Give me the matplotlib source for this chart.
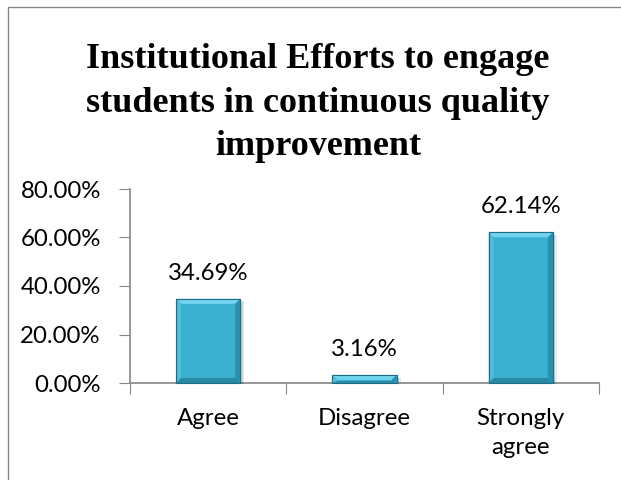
import matplotlib
matplotlib.use("Agg")
import matplotlib.pyplot as plt
from matplotlib.patches import Polygon, Rectangle
from matplotlib.transforms import IdentityTransform
from matplotlib.ticker import FuncFormatter

categorias = ["Agree", "Disagree", "Strongly\nagree"]
valores = [34.69, 3.16, 62.14]
etiquetas = ["34.69%", "3.16%", "62.14%"]

W, H = 621, 480
fig = plt.figure(figsize=(W / 100, H / 100), dpi=100)
fuente = "Lato"
tam = 17.3

# marco del grafico (se sale por la derecha y abajo)
fig.add_artist(Rectangle((8 / W, -0.1), 1.2, 1 - 7 / H + 0.1, transform=fig.transFigure,
                         facecolor="none", edgecolor="#868686", linewidth=1))

ax = fig.add_axes([130 / W, 1 - 383 / H, 469 / W, 194 / H])
x = list(range(len(categorias)))
barras = ax.bar(x, valores, width=0.41, color="#3AAFCF", edgecolor="#1D6E85", linewidth=0.8, zorder=3)

ax.set_xlim(-0.5, 2.5)
ax.set_ylim(0, 80)
ax.set_yticks([0, 20, 40, 60, 80])
ax.yaxis.set_major_formatter(FuncFormatter(lambda v, p: f"{v:.2f}%"))
ax.set_xticks([-0.5, 0.5, 1.5, 2.5], minor=False)
ax.set_xticklabels([])
ax.set_xticks(x, minor=True)
ax.set_xticklabels(categorias, minor=True, fontfamily=fuente, fontsize=tam, linespacing=1.45)
ax.tick_params(axis="x", which="minor", length=0, pad=18)
ax.tick_params(axis="x", which="major", length=8, color="#868686", direction="out")
ax.tick_params(axis="y", length=8, color="#868686", direction="out", pad=13, labelsize=tam)
for lab in ax.get_yticklabels():
    lab.set_fontfamily(fuente)
for s in ["top", "right"]:
    ax.spines[s].set_visible(False)
for s in ["left", "bottom"]:
    ax.spines[s].set_color("#868686")
    ax.spines[s].set_linewidth(1.2)

for b, t in zip(barras, etiquetas):
    ax.annotate(t, (b.get_x() + b.get_width() / 2, b.get_height()), xytext=(0, 11),
                textcoords="offset points", ha="center", va="bottom", fontfamily=fuente, fontsize=tam)

fig.text(318 / W, 1 - 103 / H, "Institutional Efforts to engage\nstudents in continuous quality\nimprovement",
         ha="center", va="center", fontfamily="Liberation Serif", fontweight="bold", fontsize=26,
         linespacing=1.42)

# biselado de las barras en coordenadas de pixel
fig.canvas.draw()
bev = 5
for b in barras:
    bb = b.get_window_extent()
    x0, y0, x1, y1 = bb.x0, bb.y0, bb.x1, bb.y1
    alto = y1 - y0
    dt = min(bev, alto * 0.6)
    db = min(bev, alto * 0.25)
    # sombra suave a la derecha
    for k, a in [(4, 0.08), (2.5, 0.12)]:
        fig.add_artist(Rectangle((x0 + k, y0 - 1), x1 - x0, alto - k / 2, transform=IdentityTransform(),
                                 facecolor="black", alpha=a, edgecolor="none", zorder=2))
    caras = [
        ([(x0, y0), (x1, y0), (x1, y1), (x0, y1)], "#3AAFCF"),
        ([(x0, y1), (x1, y1), (x1 - bev, y1 - dt), (x0 + bev, y1 - dt)], "#72D5EF"),
        ([(x0, y0), (x0, y1), (x0 + bev, y1 - dt), (x0 + bev, y0 + db)], "#4DBEDC"),
        ([(x1, y0), (x1, y1), (x1 - bev, y1 - dt), (x1 - bev, y0 + db)], "#2B8FAD"),
        ([(x0, y0), (x1, y0), (x1 - bev, y0 + db), (x0 + bev, y0 + db)], "#2A8AA6"),
    ]
    for pts, c in caras:
        fig.add_artist(Polygon(pts, closed=True, transform=IdentityTransform(),
                               facecolor=c, edgecolor="none", zorder=4))
    fig.add_artist(Rectangle((x0, y0), x1 - x0, alto, transform=IdentityTransform(),
                             facecolor="none", edgecolor="#1D6E85", linewidth=0.8, zorder=5))

fig.savefig("out.png", dpi=100)
